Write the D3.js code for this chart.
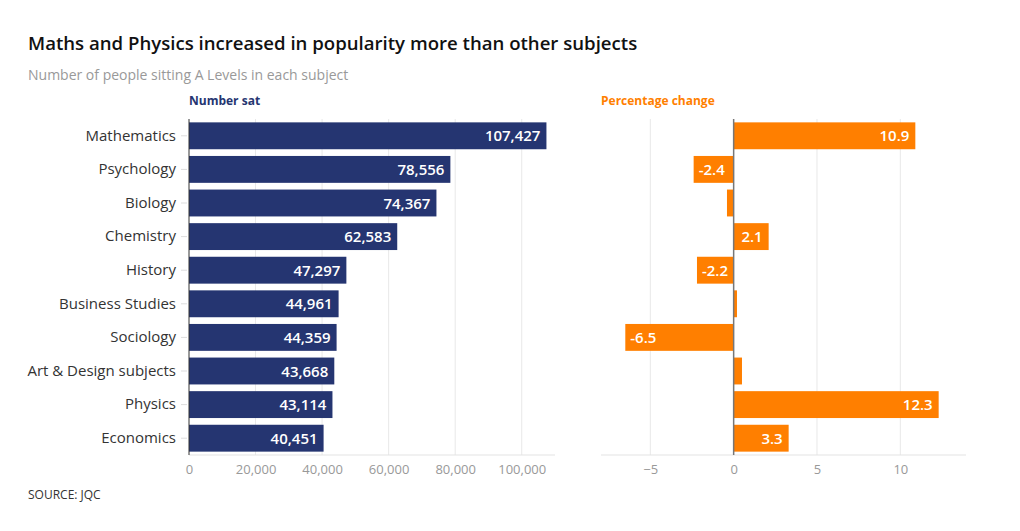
<!DOCTYPE html>
<html><head><meta charset="utf-8">
<script src="https://cdn.jsdelivr.net/npm/d3@7"></script>
<style>
body{margin:0;background:#fff;}
text{font-family:"Open Sans",sans-serif;}
</style></head>
<body><svg id="c" width="1020" height="531"></svg>
<script>
const subjects = ["Mathematics","Psychology","Biology","Chemistry","History","Business Studies","Sociology","Art & Design subjects","Physics","Economics"];
const numberSat = [107427,78556,74367,62583,47297,44961,44359,43668,43114,40451];
const pctChange = [10.9,-2.4,-0.4,2.1,-2.2,0.2,-6.5,0.5,12.3,3.3];
const leftTicks = [0,20000,40000,60000,80000,100000];
const rightTicks = [-5,0,5,10];

const svg = d3.select("#c");
const navy = "#253571", orange = "#ff7f00";
const plotTop = 119, plotBottom = 455;

svg.append("text").attr("x",28).attr("y",50).attr("font-size",18.6).attr("font-weight",600).attr("fill","#111")
  .text("Maths and Physics increased in popularity more than other subjects");
svg.append("text").attr("x",28).attr("y",80).attr("font-size",14).attr("fill","#999")
  .text("Number of people sitting A Levels in each subject");
svg.append("text").attr("x",189).attr("y",105).attr("font-size",12).attr("font-weight",700).attr("fill",navy).text("Number sat");
svg.append("text").attr("x",601).attr("y",105).attr("font-size",12).attr("font-weight",700).attr("fill",orange).text("Percentage change");
svg.append("text").attr("x",28).attr("y",499).attr("font-size",12).attr("fill","#333").text("SOURCE: JQC");

const y = d3.scaleBand().domain(subjects).range([plotTop,plotBottom]).paddingInner(0.2).paddingOuter(0.1);

// Left panel
const xL = d3.scaleLinear().domain([0,110000]).range([189,555]);
const gL = svg.append("g");
gL.selectAll(".grid").data(leftTicks.slice(1)).join("line")
  .attr("x1",d=>xL(d)).attr("x2",d=>xL(d)).attr("y1",plotTop).attr("y2",plotBottom).attr("stroke","#e8e8e8");
gL.append("line").attr("x1",189).attr("x2",555).attr("y1",plotBottom).attr("y2",plotBottom).attr("stroke","#e3e3e3");
const axL = d3.axisBottom(xL).tickValues(leftTicks).tickFormat(d3.format(",")).tickSize(0).tickPadding(10);
const axLg = gL.append("g").attr("transform",`translate(0,${plotBottom})`).call(axL);
axLg.select(".domain").remove();
axLg.selectAll("text").attr("font-size",13).attr("fill","#999").attr("font-family","Open Sans");
const axY = d3.axisLeft(y).tickSize(6).tickPadding(5);
const axYg = gL.append("g").attr("transform","translate(187,0)").call(axY);
axYg.select(".domain").remove();
axYg.selectAll("line").attr("stroke","#ddd");
axYg.selectAll("text").attr("font-size",15).attr("fill","#333").attr("font-family","Open Sans");
gL.selectAll(".bar").data(subjects).join("rect")
  .attr("x",xL(0)).attr("y",d=>y(d)).attr("height",y.bandwidth())
  .attr("width",(d,i)=>xL(numberSat[i])-xL(0)).attr("fill",navy);
gL.append("line").attr("x1",189).attr("x2",189).attr("y1",plotTop).attr("y2",plotBottom).attr("stroke","#333");
gL.selectAll(".val").data(subjects).join("text")
  .attr("x",(d,i)=>xL(numberSat[i])-6).attr("y",d=>y(d)+y.bandwidth()/2+5.5)
  .attr("text-anchor","end").attr("font-size",15).attr("font-weight",600).attr("fill","#fff")
  .text((d,i)=>d3.format(",")(numberSat[i]));

// Right panel
const xR = d3.scaleLinear().domain([-8,14]).range([600.3,967]);
const gR = svg.append("g");
gR.selectAll(".grid").data(rightTicks.filter(d=>d!==0)).join("line")
  .attr("x1",d=>xR(d)).attr("x2",d=>xR(d)).attr("y1",plotTop).attr("y2",plotBottom).attr("stroke","#e8e8e8");
gR.append("line").attr("x1",601).attr("x2",966).attr("y1",plotBottom).attr("y2",plotBottom).attr("stroke","#e3e3e3");
const axR = d3.axisBottom(xR).tickValues(rightTicks).tickSize(0).tickPadding(10);
const axRg = gR.append("g").attr("transform",`translate(0,${plotBottom})`).call(axR);
axRg.select(".domain").remove();
axRg.selectAll("text").attr("font-size",13).attr("fill","#999").attr("font-family","Open Sans");
gR.selectAll(".bar").data(subjects).join("rect")
  .attr("x",(d,i)=>xR(Math.min(0,pctChange[i]))).attr("y",d=>y(d)).attr("height",y.bandwidth())
  .attr("width",(d,i)=>Math.abs(xR(pctChange[i])-xR(0))).attr("fill",orange);
gR.append("line").attr("x1",xR(0)).attr("x2",xR(0)).attr("y1",plotTop).attr("y2",plotBottom).attr("stroke","#777").attr("stroke-width",1.5);
gR.selectAll(".val").data(subjects.filter((d,i)=>Math.abs(pctChange[i])>=1)).join("text")
  .attr("x",d=>{const v=pctChange[subjects.indexOf(d)];return v>=0?xR(v)-6:xR(v)+5;})
  .attr("y",d=>y(d)+y.bandwidth()/2+5.5)
  .attr("text-anchor",d=>pctChange[subjects.indexOf(d)]>=0?"end":"start")
  .attr("font-size",15).attr("font-weight",600).attr("fill","#fff")
  .text(d=>pctChange[subjects.indexOf(d)]);
</script></body></html>
